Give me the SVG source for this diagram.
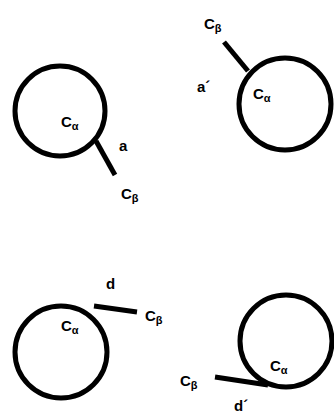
<svg xmlns="http://www.w3.org/2000/svg" width="334" height="416" viewBox="0 0 334 416">
<style>
.c{fill:none;stroke:#000;stroke-width:5}
.b{stroke:#000;stroke-width:5;stroke-linecap:butt}
text{font-family:"Liberation Sans",Arial,sans-serif;font-weight:bold;font-size:15px;fill:#000}
.s{font-size:11px}
</style>
<rect width="334" height="416" fill="#fff"/>
<g id="connectors">
<line class="b" x1="96" y1="141" x2="115" y2="175"/>
<line class="b" x1="224" y1="42" x2="248" y2="71"/>
<line class="b" x1="94" y1="306" x2="137" y2="312"/>
<line class="b" x1="215" y1="377" x2="268" y2="385"/>
</g>
<g id="node-a">
<circle class="c" cx="60" cy="111" r="45"/>
<text x="61" y="127">C<tspan class="s" dy="3">α</tspan></text>
<text x="119" y="151">a</text>
<text x="121" y="199">C<tspan class="s" dy="3">β</tspan></text>
</g>
<g id="node-a2">
<circle class="c" cx="285" cy="104" r="46"/>
<text x="253" y="99">C<tspan class="s" dy="3">α</tspan></text>
<text x="197" y="92">a´</text>
<text x="204" y="29">C<tspan class="s" dy="3">β</tspan></text>
</g>
<g id="node-d">
<circle class="c" cx="61" cy="352" r="46"/>
<text x="61" y="331">C<tspan class="s" dy="3">α</tspan></text>
<text x="106" y="289">d</text>
<text x="145" y="321">C<tspan class="s" dy="3">β</tspan></text>
</g>
<g id="node-d2">
<circle class="c" cx="286" cy="341" r="46"/>
<text x="270" y="371">C<tspan class="s" dy="3">α</tspan></text>
<text x="234" y="411">d´</text>
<text x="180" y="386">C<tspan class="s" dy="3">β</tspan></text>
</g>
</svg>
